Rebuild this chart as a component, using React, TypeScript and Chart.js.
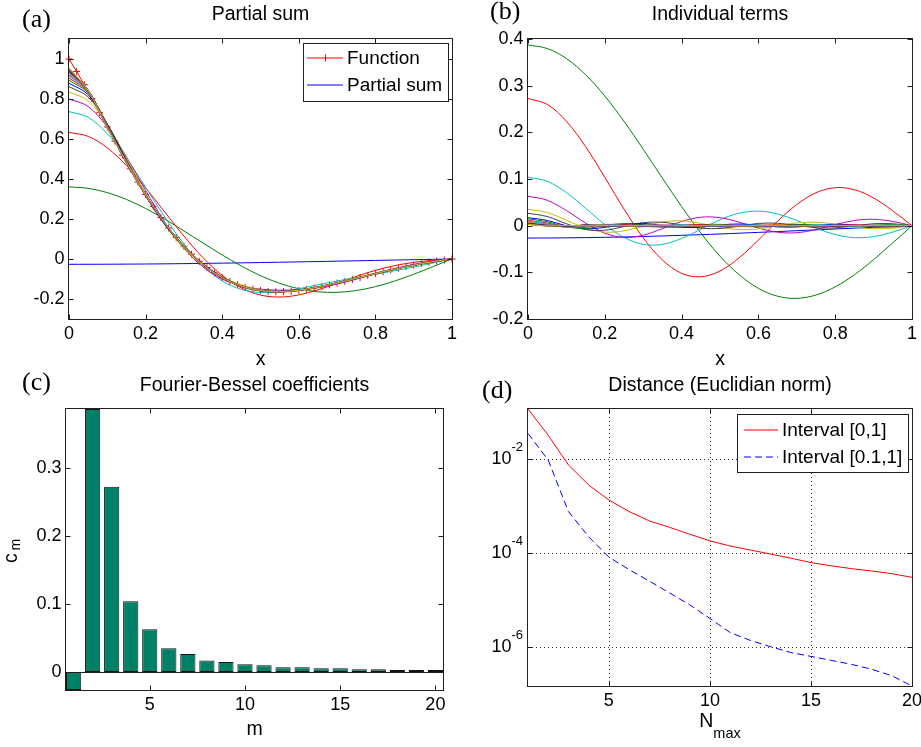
import React, { useEffect, useRef } from 'react';
import { Chart, registerables } from 'chart.js';

Chart.register(...registerables);

// ---------------- data ----------------
const xGrid = [0, 0.05, 0.1, 0.15, 0.2, 0.25, 0.3, 0.35, 0.4, 0.45, 0.5, 0.55, 0.6, 0.65, 0.7, 0.75, 0.8, 0.85, 0.9, 0.95, 1];

// individual Fourier-Bessel terms read on xGrid (panel b)
const term01 = [-0.0265, -0.0264, -0.0261, -0.0256, -0.0250, -0.0242, -0.0232, -0.0220, -0.0207, -0.0193, -0.0178, -0.0161, -0.0144, -0.0126, -0.0108, -0.0090, -0.0071, -0.0053, -0.0035, -0.0017, 0];
const term02 = [0.3870, 0.3796, 0.3581, 0.3235, 0.2777, 0.2236, 0.1638, 0.1019, 0.0410, -0.0156, -0.0655, -0.1053, -0.1343, -0.1512, -0.1558, -0.1486, -0.1312, -0.1051, -0.0728, -0.0368, 0];
const term03 = [0.2725, 0.2599, 0.2238, 0.1693, 0.1036, 0.0356, -0.0259, -0.0735, -0.1021, -0.1095, -0.0971, -0.0688, -0.0308, 0.0096, 0.0453, 0.0705, 0.0814, 0.0771, 0.0594, 0.0318, 0];
const term04 = [0.1040, 0.0952, 0.0709, 0.0373, 0.0025, -0.0252, -0.0400, -0.0401, -0.0275, -0.0077, 0.0126, 0.0268, 0.0312, 0.0250, 0.0113, -0.0053, -0.0190, -0.0257, -0.0235, -0.0138, 0];
const term05 = [0.0630, 0.0545, 0.0325, 0.0056, -0.0161, -0.0253, -0.0205, -0.0064, 0.0090, 0.0181, 0.0171, 0.0075, -0.0050, -0.0140, -0.0151, -0.0084, 0.0022, 0.0111, 0.0137, 0.0091, 0];
const term06 = [0.0350, 0.0282, 0.0118, -0.0052, -0.0138, -0.0111, -0.0012, 0.0080, 0.0103, 0.0049, -0.0035, -0.0085, -0.0069, -0.0004, 0.0059, 0.0074, 0.0033, -0.0030, -0.0067, -0.0053, 0];
const term07 = [0.0265, 0.0196, 0.0041, -0.0084, -0.0098, -0.0020, 0.0063, 0.0073, 0.0012, -0.0053, -0.0060, -0.0008, 0.0048, 0.0052, 0.0005, -0.0044, -0.0046, -0.0002, 0.0041, 0.0041, 0];
const term08 = [0.0170, 0.0113, -0.0003, -0.0067, -0.0037, 0.0030, 0.0049, 0.0006, -0.0038, -0.0030, 0.0015, 0.0037, 0.0011, -0.0027, -0.0028, 0.0006, 0.0030, 0.0015, -0.0019, -0.0026, 0];
const term09 = [0.0147, 0.0085, -0.0024, -0.0057, -0.0001, 0.0044, 0.0016, -0.0031, -0.0025, 0.0018, 0.0029, -0.0006, -0.0029, -0.0006, 0.0025, 0.0014, -0.0018, -0.0020, 0.0009, 0.0023, 0];
const term10 = [0.0113, 0.0056, -0.0032, -0.0034, 0.0021, 0.0027, -0.0015, -0.0024, 0.0012, 0.0022, -0.0009, -0.0021, 0.0006, 0.0019, -0.0005, -0.0018, 0.0003, 0.0018, 0.0000, -0.0017, 0];
const term11 = [0.0098, 0.0040, -0.0035, -0.0015, 0.0028, 0.0006, -0.0024, 0.0001, 0.0021, -0.0005, -0.0018, 0.0009, 0.0014, -0.0011, -0.0010, 0.0013, 0.0006, -0.0013, -0.0005, 0.0014, 0];
const term12 = [0.0069, 0.0022, -0.0028, 0.0000, 0.0019, -0.0010, -0.0011, 0.0014, 0.0002, -0.0013, 0.0005, 0.0010, -0.0009, -0.0004, 0.0009, -0.0001, -0.0010, 0.0007, 0.0005, -0.0009, 0];
const term13 = [0.0069, 0.0015, -0.0027, 0.0011, 0.0012, -0.0017, 0.0004, 0.0012, -0.0012, -0.0001, 0.0011, -0.0009, -0.0004, 0.0011, -0.0005, -0.0006, 0.0010, -0.0003, -0.0007, 0.0008, 0];
const term14 = [0.0054, 0.0007, -0.0019, 0.0014, 0.0000, -0.0011, 0.0011, -0.0002, -0.0007, 0.0010, -0.0004, -0.0005, 0.0008, -0.0004, -0.0004, 0.0007, -0.0005, -0.0001, 0.0006, -0.0006, 0];
const term15 = [0.0054, 0.0003, -0.0016, 0.0016, -0.0008, -0.0003, 0.0010, -0.0010, 0.0004, 0.0003, -0.0008, 0.0008, -0.0001, -0.0005, 0.0007, -0.0006, 0.0001, 0.0004, -0.0007, 0.0005, 0];
const term16 = [0.0040, -0.0001, -0.0008, 0.0011, -0.0010, 0.0005, 0.0001, -0.0005, 0.0007, -0.0006, 0.0002, 0.0001, -0.0005, 0.0006, -0.0004, 0.0001, 0.0002, -0.0004, 0.0005, -0.0003, 0];
const term17 = [0.0040, -0.0004, -0.0004, 0.0008, -0.0009, 0.0009, -0.0006, 0.0003, 0.0001, -0.0004, 0.0006, -0.0006, 0.0005, -0.0002, -0.0001, 0.0003, -0.0004, 0.0005, -0.0004, 0.0002, 0];
const term18 = [0.0030, -0.0005, 0.0001, 0.0002, -0.0004, 0.0005, -0.0006, 0.0005, -0.0005, 0.0003, -0.0001, 0.0000, 0.0001, -0.0002, 0.0003, -0.0004, 0.0004, -0.0003, 0.0002, -0.0001, 0];
const term19 = [0.0030, -0.0007, 0.0004, -0.0001, 0.0000, 0.0001, -0.0002, 0.0003, -0.0004, 0.0004, -0.0004, 0.0004, -0.0004, 0.0004, -0.0003, 0.0003, -0.0002, 0.0002, -0.0001, 0.0001, 0];
const term20 = [0.0030, -0.0009, 0.0006, -0.0005, 0.0004, -0.0003, 0.0003, -0.0003, 0.0002, -0.0001, 0.0001, -0.0002, 0.0001, -0.0001, 0.0001, -0.0001, 0.0000, 0.0000, 0.0000, 0.0000, 0];
const terms = [term01, term02, term03, term04, term05, term06, term07, term08, term09, term10,
  term11, term12, term13, term14, term15, term16, term17, term18, term19, term20];

// the approximated function (panel a, red "+" markers)
const funcX = [0, 0.02, 0.04, 0.06, 0.08, 0.1, 0.12, 0.14, 0.16, 0.18, 0.2, 0.22, 0.24, 0.26, 0.28, 0.3, 0.32, 0.34, 0.36, 0.38, 0.4,
  0.42, 0.44, 0.46, 0.48, 0.5, 0.52, 0.54, 0.56, 0.58, 0.6, 0.62, 0.64, 0.66, 0.68, 0.7, 0.72, 0.74, 0.76, 0.78, 0.8,
  0.82, 0.84, 0.86, 0.88, 0.9, 0.92, 0.94, 0.96, 0.98, 1];
const funcY = [1.0, 0.9376, 0.8712, 0.8021, 0.7314, 0.6601, 0.5891, 0.5191, 0.4511, 0.3853, 0.3226, 0.2631, 0.2073, 0.1553, 0.1074,
  0.0636, 0.0240, -0.0113, -0.0426, -0.0698, -0.0931, -0.1127, -0.1287, -0.1414, -0.1510, -0.1578, -0.1619, -0.1637, -0.1633,
  -0.1611, -0.1572, -0.1519, -0.1454, -0.1380, -0.1297, -0.1210, -0.1117, -0.1022, -0.0926, -0.0829, -0.0734, -0.0641, -0.0551,
  -0.0465, -0.0383, -0.0305, -0.0233, -0.0166, -0.0105, -0.0050, 0.0];

// Fourier-Bessel coefficients (panel c)
const coefM = [1, 2, 3, 4, 5, 6, 7, 8, 9, 10, 11, 12, 13, 14, 15, 16, 17, 18, 19, 20];
const coefC = [-0.0265, 0.387, 0.2725, 0.104, 0.063, 0.035, 0.0265, 0.017, 0.0147, 0.0113, 0.0098, 0.0069, 0.0069, 0.0054, 0.0054, 0.004, 0.004, 0.003, 0.003, 0.003];

// distance vs Nmax (panel d)
const nMax = [1, 2, 3, 4, 5, 6, 7, 8, 9, 10, 11, 12, 13, 14, 15, 16, 17, 18, 19, 20];
const distFull = [0.1164, 0.032, 0.0075, 0.0028, 0.00134, 7.6e-4, 4.8e-4, 3.5e-4, 2.5e-4, 1.8e-4, 1.4e-4, 1.15e-4, 9.4e-5, 7.7e-5, 6.2e-5, 5.3e-5, 4.6e-5, 4.1e-5, 3.6e-5, 3.0e-5];
const distPart = [0.035, 0.0095, 7.6e-4, 2.2e-4, 8.1e-5, 4.4e-5, 2.5e-5, 1.4e-5, 7.8e-6, 4.0e-6, 2.0e-6, 1.36e-6, 1.0e-6, 7.5e-7, 6.2e-7, 5.1e-7, 4.2e-7, 3.3e-7, 2.4e-7, 1.45e-7];

// tick labels
const ticksAX = [0, 0.2, 0.4, 0.6, 0.8, 1];
const ticksAY = [-0.2, 0, 0.2, 0.4, 0.6, 0.8, 1];
const ticksBX = [0, 0.2, 0.4, 0.6, 0.8, 1];
const ticksBY = [-0.2, -0.1, 0, 0.1, 0.2, 0.3, 0.4];
const ticksCX = [5, 10, 15, 20];
const ticksCY = [0, 0.1, 0.2, 0.3];
const ticksDX = [5, 10, 15, 20];
const ticksDY = [1e-6, 1e-4, 1e-2];
const ticksDYExp = ['-6', '-4', '-2'];

// partial sums = cumulative sums of the terms
const partialSums = terms.map((_, n) => xGrid.map((__, i) => terms.slice(0, n + 1).reduce((s, t) => s + t[i], 0)));

// ---------------- styling helpers ----------------
const SANS = '"Liberation Sans", Arial, Helvetica, sans-serif';
const SERIF = '"Liberation Serif", "Times New Roman", serif';
const MCOL = ['#0000ff', '#008000', '#ff0000', '#00bfbf', '#bf00bf', '#bfbf00', '#404040'];
const AXC = '#1f1f1f';

type Geo = { w: number; h: number; L: number; R: number; T: number; B: number };
type LegendItem = { label: string; color: string; dash?: number[]; cross?: boolean; y: number };
type Overlay = {
  title: string; titleY: number;
  tag: string; tagX: number; tagY: number;
  xTicks: number[]; yTicks: number[];
  xLabel?: string; xLabelY?: number;
  grid?: boolean; zeroLine?: boolean;
  legend?: { box: [number, number, number, number]; x1: number; x2: number; tx: number; items: LegendItem[] };
  cmLabel?: boolean; nmaxLabel?: boolean; logLabels?: boolean;
};

const fmt = (v: any) => {
  const n = Math.round(Number(v) * 1000) / 1000;
  return n === 0 ? '0' : String(n);
};

function seg(ctx: CanvasRenderingContext2D, x1: number, y1: number, x2: number, y2: number) {
  ctx.beginPath(); ctx.moveTo(x1, y1); ctx.lineTo(x2, y2); ctx.stroke();
}

function makeOverlay(o: Overlay) {
  return {
    id: 'matlabOverlay',
    beforeDatasetsDraw(chart: any) {
      if (!o.grid) return;
      const { ctx, chartArea: a, scales } = chart;
      ctx.save();
      ctx.strokeStyle = '#333'; ctx.lineWidth = 1; ctx.setLineDash([1, 3]);
      for (const v of o.xTicks) { const p = Math.round(scales.x.getPixelForValue(v)) + 0.5; seg(ctx, p, a.top, p, a.bottom); }
      for (const v of o.yTicks) { const p = Math.round(scales.y.getPixelForValue(v)) + 0.5; seg(ctx, a.left, p, a.right, p); }
      ctx.restore();
    },
    afterDatasetsDraw(chart: any) {
      const { ctx, chartArea: a, scales } = chart;
      ctx.save();
      ctx.strokeStyle = AXC; ctx.lineWidth = 1; ctx.setLineDash([]);
      if (o.zeroLine) { const p = Math.round(scales.y.getPixelForValue(0)) + 0.5; seg(ctx, a.left, p, a.right, p); }
      ctx.strokeRect(a.left - 0.5, a.top - 0.5, a.right - a.left + 1, a.bottom - a.top + 1);
      const tl = 4.5;
      for (const v of o.xTicks) {
        const p = Math.round(scales.x.getPixelForValue(v)) + 0.5;
        seg(ctx, p, a.bottom, p, a.bottom - tl); seg(ctx, p, a.top, p, a.top + tl);
      }
      for (const v of o.yTicks) {
        const p = Math.round(scales.y.getPixelForValue(v)) + 0.5;
        seg(ctx, a.left, p, a.left + tl, p); seg(ctx, a.right, p, a.right - tl, p);
      }
      ctx.restore();
    },
    afterDraw(chart: any) {
      const { ctx, chartArea: a, scales } = chart;
      ctx.save();
      const cx = (a.left + a.right) / 2;
      // legend
      if (o.legend) {
        const lg = o.legend; const [x1, y1, x2, y2] = lg.box;
        ctx.fillStyle = '#fff'; ctx.fillRect(x1, y1, x2 - x1, y2 - y1);
        ctx.strokeStyle = AXC; ctx.lineWidth = 1; ctx.strokeRect(x1 + 0.5, y1 + 0.5, x2 - x1, y2 - y1);
        for (const it of lg.items) {
          ctx.strokeStyle = it.color; ctx.lineWidth = 1.2; ctx.setLineDash(it.dash || []);
          seg(ctx, lg.x1, it.y, lg.x2, it.y);
          ctx.setLineDash([]); ctx.lineWidth = 1;
          if (it.cross) {
            const mx = Math.round((lg.x1 + lg.x2) / 2) + 0.5;
            seg(ctx, mx, it.y - 3.5, mx, it.y + 3.5);
          }
          ctx.fillStyle = '#000'; ctx.font = `19px ${SANS}`; ctx.textBaseline = 'middle'; ctx.textAlign = 'left';
          ctx.fillText(it.label, lg.tx, it.y + 0.5);
        }
      }
      ctx.fillStyle = '#000';
      ctx.textBaseline = 'alphabetic';
      // title
      ctx.font = `19.5px ${SANS}`; ctx.textAlign = 'center';
      ctx.fillText(o.title, cx, o.titleY);
      // panel tag
      ctx.font = `26px ${SERIF}`; ctx.textAlign = 'left';
      ctx.fillText(o.tag, o.tagX, o.tagY);
      // x label
      if (o.xLabel) {
        ctx.font = `19.5px ${SANS}`; ctx.textAlign = 'center';
        ctx.fillText(o.xLabel, cx, o.xLabelY || 0);
      }
      if (o.nmaxLabel) {
        ctx.textAlign = 'left';
        ctx.font = `19.5px ${SANS}`; const nw = ctx.measureText('N').width;
        ctx.font = `14.5px ${SANS}`; const mw = ctx.measureText('max').width;
        const x0 = cx - (nw + mw) / 2;
        ctx.font = `19.5px ${SANS}`; ctx.fillText('N', x0, 357);
        ctx.font = `14.5px ${SANS}`; ctx.fillText('max', x0 + nw, 368);
      }
      if (o.cmLabel) {
        ctx.save();
        ctx.translate(17, 193); ctx.rotate(-Math.PI / 2);
        ctx.textAlign = 'left';
        ctx.font = `19.5px ${SANS}`; ctx.fillText('c', 0, 0);
        ctx.font = `14px ${SANS}`; ctx.fillText('m', 12.5, 2.5);
        ctx.restore();
      }
      if (o.logLabels) {
        ctx.textAlign = 'right'; ctx.textBaseline = 'middle';
        ticksDY.forEach((v, i) => {
          const py = scales.y.getPixelForValue(v);
          ctx.font = `13px ${SANS}`; const ew = ctx.measureText(ticksDYExp[i]).width;
          ctx.fillText(ticksDYExp[i], a.left - 5, py - 11.5);
          ctx.font = `18px ${SANS}`;
          ctx.fillText('10', a.left - 5 - ew, py + 0.5);
        });
      }
      ctx.restore();
    },
  };
}

function axisX(g: Geo, min: number, max: number, ticks: number[]) {
  return {
    type: 'linear', min, max, offset: false,
    afterFit: (s: any) => { s.height = g.h - g.B; },
    afterBuildTicks: (s: any) => { s.ticks = ticks.map((v) => ({ value: v })); },
    grid: { display: false, drawTicks: false },
    border: { display: false },
    ticks: { font: { family: SANS, size: 18, lineHeight: 1.2 }, color: '#000', padding: 4, maxRotation: 0, minRotation: 0, autoSkip: false, callback: fmt },
  };
}
function axisY(g: Geo, min: number, max: number, ticks: number[], log = false) {
  return {
    type: log ? 'logarithmic' : 'linear', min, max,
    afterFit: (s: any) => { s.width = g.L; },
    afterBuildTicks: (s: any) => { s.ticks = ticks.map((v) => ({ value: v })); },
    grid: { display: false, drawTicks: false },
    border: { display: false },
    ticks: { display: !log, font: { family: SANS, size: 18, lineHeight: 1.2 }, color: '#000', padding: 4.5, autoSkip: false, callback: fmt },
  };
}
function baseOptions(g: Geo, x: any, y: any) {
  return {
    animation: false, responsive: false, maintainAspectRatio: false, events: [],
    layout: { padding: { left: 0, right: g.w - g.R, top: g.T, bottom: 0 } },
    plugins: { legend: { display: false }, tooltip: { enabled: false }, title: { display: false } },
    scales: { x, y },
  };
}

const geoA: Geo = { w: 470, h: 370, L: 69, R: 452, T: 39, B: 319 };
const geoB: Geo = { w: 475, h: 370, L: 68, R: 452, T: 39, B: 319 };
const geoC: Geo = { w: 460, h: 377, L: 66, R: 443, T: 39, B: 320 };
const geoD: Geo = { w: 475, h: 377, L: 68, R: 452, T: 39, B: 316 };

function configA(): any {
  const datasets: any[] = [{
    label: 'Function',
    data: funcX.map((x, i) => ({ x, y: funcY[i] })),
    borderColor: '#ff0000', borderWidth: 1, pointStyle: 'cross', pointRadius: 3.5,
    pointBorderColor: '#ff0000', pointBorderWidth: 1, tension: 0, order: 100, clip: false,
  }];
  partialSums.forEach((s, i) => datasets.push({
    label: 'Partial sum ' + (i + 1),
    data: xGrid.map((x, k) => ({ x, y: s[k] })),
    borderColor: MCOL[i % 7], borderWidth: 1, pointRadius: 0, tension: 0.35, order: 40 - i,
  }));
  return {
    type: 'line', data: { datasets },
    options: baseOptions(geoA, axisX(geoA, 0, 1, ticksAX), axisY(geoA, -0.3, 1.1, ticksAY)),
    plugins: [makeOverlay({
      title: 'Partial sum', titleY: 20, tag: '(a)', tagX: 22, tagY: 27,
      xTicks: ticksAX, yTicks: ticksAY, xLabel: 'x', xLabelY: 365,
      legend: {
        box: [303, 43, 448, 101], x1: 307, x2: 343, tx: 347,
        items: [
          { label: 'Function', color: '#ff0000', cross: true, y: 58 },
          { label: 'Partial sum', color: '#0000ff', y: 85 },
        ],
      },
    })],
  };
}

function configB(): any {
  const datasets = terms.map((t, i) => ({
    label: 'Term ' + (i + 1),
    data: xGrid.map((x, k) => ({ x, y: t[k] })),
    borderColor: MCOL[i % 7], borderWidth: 1, pointRadius: 0, tension: 0.35, order: 40 - i,
  }));
  return {
    type: 'line', data: { datasets },
    options: baseOptions(geoB, axisX(geoB, 0, 1, ticksBX), axisY(geoB, -0.2, 0.4, ticksBY)),
    plugins: [makeOverlay({
      title: 'Individual terms', titleY: 20, tag: '(b)', tagX: 30, tagY: 19,
      xTicks: ticksBX, yTicks: ticksBY, xLabel: 'x', xLabelY: 365,
    })],
  };
}

function configC(): any {
  return {
    type: 'bar',
    data: {
      datasets: [{
        label: 'c_m',
        data: coefM.map((m, i) => ({ x: m, y: coefC[i] })),
        backgroundColor: '#008066', borderColor: '#111111', borderWidth: 1, borderSkipped: false,
        barPercentage: 0.8, categoryPercentage: 1.0,
      }],
    },
    options: baseOptions(geoC, axisX(geoC, 0.6, 20.4, ticksCX), axisY(geoC, -0.0265, 0.387, ticksCY)),
    plugins: [makeOverlay({
      title: 'Fourier-Bessel coefficients', titleY: 21, tag: '(c)', tagX: 22, tagY: 20,
      xTicks: ticksCX, yTicks: ticksCY, xLabel: 'm', xLabelY: 365, zeroLine: true, cmLabel: true,
    })],
  };
}

function configD(): any {
  return {
    type: 'line',
    data: {
      datasets: [
        { label: 'Interval [0,1]', data: nMax.map((n, i) => ({ x: n, y: distFull[i] })), borderColor: '#ff0000', borderWidth: 1, pointRadius: 0, tension: 0 },
        { label: 'Interval [0.1,1]', data: nMax.map((n, i) => ({ x: n, y: distPart[i] })), borderColor: '#0000ff', borderWidth: 1, borderDash: [7, 4], pointRadius: 0, tension: 0 },
      ],
    },
    options: baseOptions(geoD, axisX(geoD, 1, 20, ticksDX), axisY(geoD, 1.45e-7, 0.1164, ticksDY, true)),
    plugins: [makeOverlay({
      title: 'Distance (Euclidian norm)', titleY: 20.5, tag: '(d)', tagX: 22, tagY: 28,
      xTicks: ticksDX, yTicks: ticksDY, grid: true, nmaxLabel: true, logLabels: true,
      legend: {
        box: [277, 44, 448, 102], x1: 284, x2: 318, tx: 322,
        items: [
          { label: 'Interval [0,1]', color: '#ff0000', y: 60 },
          { label: 'Interval [0.1,1]', color: '#0000ff', dash: [7, 4], y: 87 },
        ],
      },
    })],
  };
}

export default function App() {
  const refA = useRef<HTMLCanvasElement>(null);
  const refB = useRef<HTMLCanvasElement>(null);
  const refC = useRef<HTMLCanvasElement>(null);
  const refD = useRef<HTMLCanvasElement>(null);

  useEffect(() => {
    const charts = [
      new Chart(refA.current as HTMLCanvasElement, configA()),
      new Chart(refB.current as HTMLCanvasElement, configB()),
      new Chart(refC.current as HTMLCanvasElement, configC()),
      new Chart(refD.current as HTMLCanvasElement, configD()),
    ];
    return () => charts.forEach((c) => c.destroy());
  }, []);

  const cv = (left: number, top: number, g: Geo): React.CSSProperties => ({
    position: 'absolute', left, top, width: g.w, height: g.h,
  });

  return (
    <div style={{ position: 'fixed', left: 0, top: 0, width: 921, height: 747, overflow: 'hidden', background: '#fff' }}>
      <canvas ref={refA} width={geoA.w} height={geoA.h} style={cv(0, 0, geoA)} />
      <canvas ref={refB} width={geoB.w} height={geoB.h} style={cv(460, 0, geoB)} />
      <canvas ref={refC} width={geoC.w} height={geoC.h} style={cv(0, 370, geoC)} />
      <canvas ref={refD} width={geoD.w} height={geoD.h} style={cv(460, 370, geoD)} />
    </div>
  );
}
